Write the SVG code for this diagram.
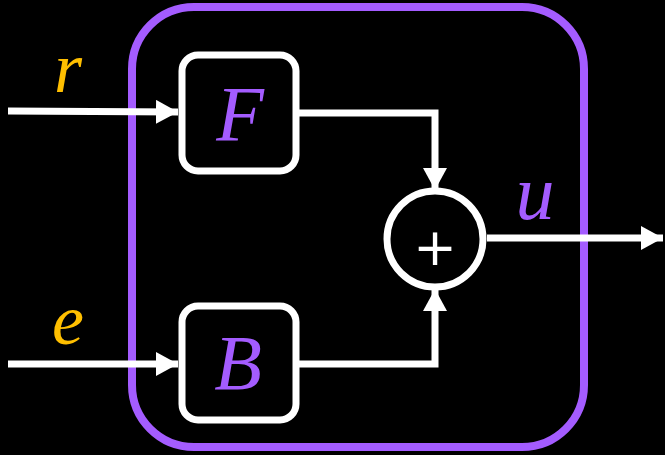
<svg xmlns="http://www.w3.org/2000/svg" width="665" height="455" viewBox="0 0 665 455">
<style>
.box{fill:none;stroke:#fff;stroke-width:7}
.wire{fill:none;stroke:#fff;stroke-width:7}
.sym{font-family:"Liberation Serif",serif;font-style:italic;fill:#A45CFF}
.in{font-family:"Liberation Serif",serif;font-style:italic;fill:#FFBF00}
</style>
<defs>
<marker id="ah" markerUnits="userSpaceOnUse" markerWidth="22" markerHeight="24" refX="22" refY="12" orient="auto">
<path d="M0,0 L22,12 L0,24 Z" fill="#fff"/>
</marker>
</defs>
<rect width="665" height="455" fill="#000"/>
<g id="container">
<rect x="132" y="7" width="452" height="440" rx="62" fill="none" stroke="#A45CFF" stroke-width="8"/>
</g>
<g id="connectors">
<path class="wire" d="M8,111 L178,112" marker-end="url(#ah)"/>
<path class="wire" d="M8,364 L178,364" marker-end="url(#ah)"/>
<path class="wire" d="M296,113 L435,113 L435,190" marker-end="url(#ah)"/>
<path class="wire" d="M296,364 L435,364 L435,289" marker-end="url(#ah)"/>
<path class="wire" d="M487,238 L663,238" marker-end="url(#ah)"/>
</g>
<g id="label-r"><text class="in" x="68" y="92" font-size="72" text-anchor="middle">r</text></g>
<g id="label-e"><text class="in" x="68" y="344" font-size="72" text-anchor="middle">e</text></g>
<g id="label-u"><text class="sym" x="535" y="219" font-size="78" text-anchor="middle">u</text></g>
<g id="node-F">
<rect class="box" x="182" y="55" width="114" height="116" rx="16"/>
<text class="sym" x="240" y="140" font-size="78" text-anchor="middle">F</text>
</g>
<g id="node-B">
<rect class="box" x="182" y="306" width="114" height="114" rx="16"/>
<text class="sym" x="238" y="389" font-size="78" text-anchor="middle">B</text>
</g>
<g id="node-sum">
<circle class="box" cx="435" cy="239" r="48"/>
<text x="435" y="265" font-family="DejaVu Sans,sans-serif" font-size="52" fill="#fff" text-anchor="middle">+</text>
</g>
</svg>
